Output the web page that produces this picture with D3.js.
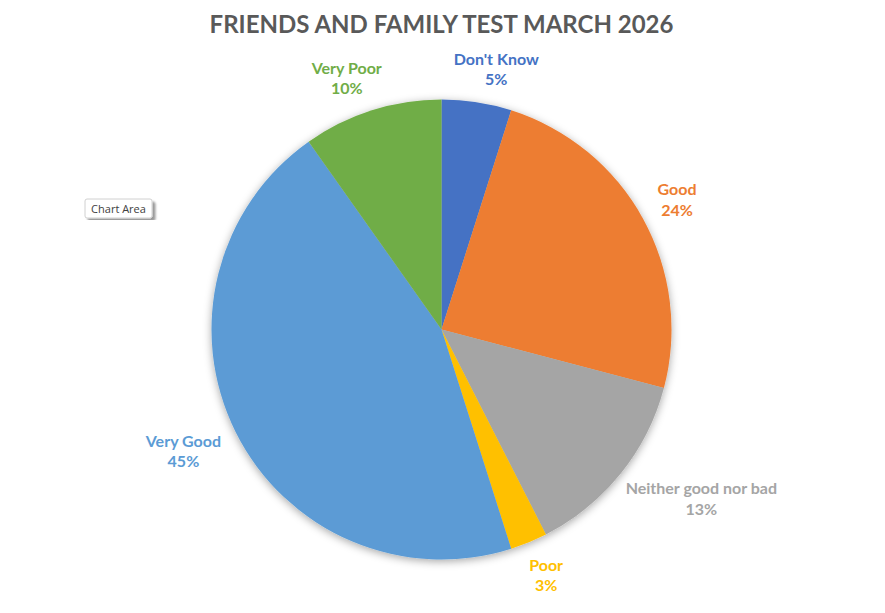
<!DOCTYPE html>
<html>
<head>
<meta charset="utf-8">
<script src="https://cdn.jsdelivr.net/npm/d3@7"></script>
<style>
	body { margin: 0; background: #fff; }
	text { font-family: Lato, "Open Sans", sans-serif; }
</style>
</head>
<body>
<svg id="chart" width="885" height="613"></svg>
<script>
// data (percent of responses)
var categories = ["Don't Know", "Good", "Neither good nor bad", "Poor", "Very Good", "Very Poor"];
var values = [4.9, 24.2, 13.4, 2.6, 45.1, 9.8];
var colors = ["#4472C4", "#ED7D31", "#A5A5A5", "#FFC000", "#5B9BD5", "#70AD47"];
var title = "FRIENDS AND FAMILY TEST MARCH 2026";

(function () {
	var svg = d3.select("#chart");
	var cx = 441.5, cy = 329.5, radius = 230;

	var data = categories.map(function (c, i) { return { cat: c, value: values[i], color: colors[i] }; });
	var total = d3.sum(values);

	// soft shadow behind the pie
	var defs = svg.append("defs");
	var f = defs.append("filter").attr("id", "shadow")
		.attr("x", "-20%").attr("y", "-20%").attr("width", "140%").attr("height", "140%");
	f.append("feDropShadow")
		.attr("dx", 0).attr("dy", 2)
		.attr("stdDeviation", 4)
		.attr("flood-color", "#000")
		.attr("flood-opacity", 0.35);
	var f2 = defs.append("filter").attr("id", "tipShadow");
	f2.append("feDropShadow")
		.attr("dx", 3).attr("dy", 3)
		.attr("stdDeviation", 0.8)
		.attr("flood-color", "#000")
		.attr("flood-opacity", 0.4);

	svg.append("text")
		.attr("x", cx)
		.attr("y", 33)
		.attr("text-anchor", "middle")
		.attr("fill", "#595959")
		.style("font-size", "24px")
		.style("font-weight", "bold")
		.text(title);

	var pie = d3.pie().sort(null).value(function (d) { return d.value; });
	var arc = d3.arc().innerRadius(0).outerRadius(radius);
	var arcs = pie(data);

	var g = svg.append("g").attr("transform", "translate(" + cx + "," + cy + ")");

	g.append("g")
		.attr("filter", "url(#shadow)")
		.selectAll("path")
		.data(arcs)
		.enter().append("path")
		.attr("d", arc)
		.attr("fill", function (d) { return d.data.color; });

	// labels outside end, box pushed away from the rim
	var labelR = radius + 18;
	var lab = g.selectAll(".lab")
		.data(arcs)
		.enter().append("text")
		.attr("class", "lab")
		.attr("text-anchor", "middle")
		.attr("fill", function (d) { return d.data.color; })
		.style("font-size", "16px")
		.style("font-weight", "bold");
	lab.append("tspan").attr("x", 0).attr("dy", 0).text(function (d) { return d.data.cat; });
	lab.append("tspan").attr("x", 0).attr("dy", 20.5)
		.text(function (d) { return Math.round(d.data.value / total * 100) + "%"; });
	lab.each(function (d) {
		var t = d3.select(this);
		var bb = this.getBBox();
		var a = (d.startAngle + d.endAngle) / 2;
		var s = Math.sin(a), c = Math.cos(a);
		var px = labelR * s + (bb.width / 2) * Math.sign(s) * Math.sqrt(Math.abs(s));
		var py = -labelR * c - 16 * Math.sign(c) * Math.sqrt(Math.abs(c));
		var oy = bb.y + bb.height / 2;
		t.attr("transform", "translate(" + px + "," + (py - oy) + ")");
	});

	// "Chart Area" hover tip
	var tip = svg.append("g").attr("transform", "translate(85,199)");
	tip.append("rect")
		.attr("width", 67).attr("height", 19)
		.attr("rx", 2)
		.attr("fill", "#fff")
		.attr("stroke", "#d0d0d0")
		.attr("filter", "url(#tipShadow)");
	tip.append("text")
		.attr("x", 33.5).attr("y", 14)
		.attr("text-anchor", "middle")
		.attr("fill", "#404040")
		.style("font-family", "'Open Sans', sans-serif")
		.style("font-size", "11px")
		.text("Chart Area");
})();
</script>
</body>
</html>
